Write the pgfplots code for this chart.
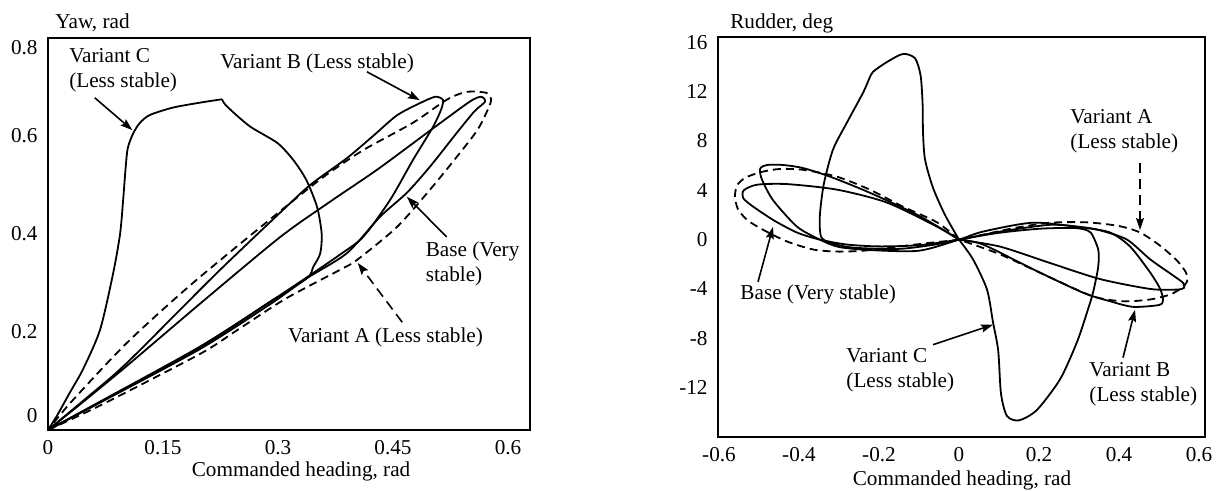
\documentclass[border=0pt]{standalone}
\usepackage{fontspec}
\setmainfont{Liberation Serif}
\usepackage{pgfplots}
\pgfplotsset{compat=1.18}
\usetikzlibrary{arrows.meta}

\pgfplotsset{
  loopaxis/.style={
    scale only axis,
    axis line style={line width=1pt},
    major tick length=0pt,
    tick style={draw=none},
    xticklabel style={yshift=-1.5pt},
    yticklabel style={xshift=-1.5pt},
    clip=false,
  },
  curve/.style={black, line width=0.9pt, smooth, tension=0.45, no markers},
  dashcurve/.style={curve, dash pattern=on 4pt off 2.5pt},
}
\tikzset{
  pointer/.style={-{Stealth[length=6pt,width=4pt,inset=1pt]}, line width=0.8pt},
  dpointer/.style={pointer, dash pattern=on 5pt off 3pt},
}

\begin{document}
\fontsize{10.6}{12.5}\selectfont
\begin{tikzpicture}

% ---------------- yaw versus commanded heading ----------------
\begin{axis}[loopaxis,
  at={(0pt,0pt)}, anchor=south west,
  width=241pt, height=196pt,
  xmin=0, xmax=0.6287, ymin=0, ymax=0.8,
  xtick={0,0.15,0.3,0.45,0.6}, xticklabels={0,0.15,0.3,0.45,0.6},
  ytick={0,0.2,0.4,0.6,0.8},
  yticklabels={{\smash{\raisebox{3.65pt}{0}}},0.2,0.4,0.6,{\smash{\raisebox{-8.35pt}{0.8}}}},
  xlabel={Commanded heading, rad},
  xlabel style={at={(axis description cs:0.525,0)}, anchor=base, yshift=-23.5pt},
  ylabel={Yaw, rad},
  ylabel style={rotate=-90, at={(axis description cs:0,1.0255)}, anchor=base west},
]
% Variant A
\addplot[dashcurve] coordinates {(0,0) (0.068,0.05) (0.198,0.155) (0.246,0.203) (0.31,0.268)
  (0.381,0.327) (0.403,0.347) (0.455,0.414) (0.498,0.49) (0.533,0.557) (0.56,0.612)
  (0.574,0.655) (0.578,0.675) (0.572,0.688) (0.546,0.69) (0.52,0.674) (0.476,0.627)
  (0.411,0.571) (0.359,0.516) (0.30,0.443) (0.189,0.30) (0.103,0.178) (0.029,0.055) (0,0)};
% Base
\addplot[curve] coordinates {(0,0) (0.068,0.056) (0.198,0.165) (0.29,0.257) (0.338,0.31)
  (0.39,0.361) (0.433,0.435) (0.468,0.484) (0.498,0.537) (0.533,0.606) (0.556,0.65)
  (0.57,0.67) (0.565,0.68) (0.55,0.67) (0.5,0.613) (0.43,0.532) (0.368,0.466)
  (0.303,0.394) (0.2,0.26) (0.103,0.131) (0.04,0.05) (0,0)};
% Variant B
\addplot[curve] coordinates {(0,0) (0.068,0.058) (0.198,0.17) (0.29,0.262) (0.338,0.312)
  (0.38,0.357) (0.411,0.394) (0.446,0.469) (0.476,0.551) (0.502,0.618) (0.513,0.655)
  (0.515,0.674) (0.505,0.68) (0.485,0.667) (0.455,0.642) (0.424,0.600) (0.39,0.555)
  (0.346,0.505) (0.32,0.469) (0.22,0.32) (0.103,0.137) (0.05,0.065) (0,0)};
% Variant C
\addplot[curve] coordinates {(0,0) (0.012,0.03) (0.028,0.075) (0.046,0.125) (0.068,0.205)
  (0.085,0.32) (0.094,0.40) (0.098,0.469) (0.101,0.53) (0.104,0.575) (0.111,0.605)
  (0.12,0.627) (0.133,0.643) (0.163,0.658) (0.198,0.668) (0.227,0.675)};
\addplot[curve] coordinates {(0.227,0.675) (0.233,0.661) (0.263,0.62) (0.299,0.586)
  (0.320,0.551) (0.337,0.51) (0.351,0.455) (0.357,0.40) (0.355,0.36) (0.346,0.333)
  (0.338,0.31) (0.29,0.262) (0.198,0.168) (0.068,0.057) (0,0)};

\node[anchor=west, align=left] at (axis cs:0.018,0.734) {Variant C\\(Less stable)};
\draw[pointer] (axis cs:0.061,0.678) -- (axis cs:0.110,0.612);
\node at (axis cs:0.351,0.749) {Variant B (Less stable)};
\draw[pointer] (axis cs:0.416,0.731) -- (axis cs:0.485,0.673);
\node[anchor=west, align=left] at (axis cs:0.483,0.339) {Base (Very\\stable)};
\draw[pointer] (axis cs:0.520,0.394) -- (axis cs:0.468,0.476);
\node[anchor=east] at (axis cs:0.577,0.188) {Variant A (Less stable)};
\draw[dpointer] (axis cs:0.462,0.220) -- (axis cs:0.404,0.341);
\end{axis}

% ---------------- rudder versus commanded heading ----------------
\begin{axis}[loopaxis,
  at={(335pt,-3.5pt)}, anchor=south west,
  width=243.5pt, height=199.85pt,
  xmin=-0.6025, xmax=0.615, ymin=-16, ymax=16.4,
  xtick={-0.6,-0.4,-0.2,0,0.2,0.4,0.6},
  xticklabels={-0.6,-0.4,-0.2,0,0.2,0.4,0.6},
  ytick={-12,-8,-4,0,4,8,12,16},
  yticklabels={-12,-8,-4,0,4,8,12,16},
  xlabel={Commanded heading, rad},
  xlabel style={at={(axis description cs:0.501,0)}, anchor=base, yshift=-24pt},
  ylabel={Rudder, deg},
  ylabel style={rotate=-90, at={(axis description cs:0.01,1.021)}, anchor=base west},
]
% Variant A
\addplot[dashcurve] coordinates {(0,0) (-0.055,1.4) (-0.14,2.67) (-0.223,4.05) (-0.305,5.1)
  (-0.39,5.66) (-0.45,5.72) (-0.498,5.45) (-0.535,5.0) (-0.555,4.4) (-0.56,3.5)
  (-0.553,2.5) (-0.53,1.6) (-0.49,0.8) (-0.43,-0.15) (-0.365,-0.8) (-0.305,-0.97)
  (-0.24,-0.9) (-0.16,-0.6) (-0.07,-0.25) (0,0) (0.06,0.4) (0.14,0.95) (0.228,1.37)
  (0.32,1.4) (0.4,1.1) (0.453,0.57) (0.503,-0.5) (0.545,-1.7) (0.568,-2.7) (0.57,-3.4)
  (0.555,-3.95) (0.528,-4.45) (0.478,-4.85) (0.41,-5.0) (0.335,-4.6) (0.228,-3.07)
  (0.103,-1.2) (0,0)};
% Base
\addplot[curve] coordinates {(0,0) (-0.055,1.05) (-0.18,3.0) (-0.305,4.05) (-0.43,4.5)
  (-0.505,4.45) (-0.538,4.0) (-0.54,3.4) (-0.52,2.8) (-0.465,1.6) (-0.405,0.57)
  (-0.348,0) (-0.28,-0.4) (-0.2,-0.55) (-0.1,-0.45) (0,0) (0.103,0.65) (0.228,1.2)
  (0.31,1.0) (0.353,0.75) (0.42,0) (0.478,-1.6) (0.535,-2.9) (0.56,-3.5) (0.563,-3.9)
  (0.545,-4.05) (0.478,-4.0) (0.353,-3.2) (0.228,-1.9) (0.103,-0.57) (0,0)};
% Variant B
\addplot[curve] coordinates {(0,0) (-0.098,1.9) (-0.223,3.8) (-0.322,5.1) (-0.39,5.8)
  (-0.44,6.05) (-0.48,6.05) (-0.497,5.75) (-0.493,4.9) (-0.465,3.2) (-0.405,1.05)
  (-0.348,0) (-0.3,-0.6) (-0.22,-0.85) (-0.1,-0.9) (0,0) (0.06,0.65) (0.185,1.37)
  (0.31,0.97) (0.378,0.57) (0.428,-0.57) (0.478,-2.67) (0.503,-4.0) (0.51,-4.9)
  (0.5,-5.3) (0.435,-5.45) (0.378,-5.0) (0.31,-4.3) (0.185,-2.4) (0.06,-0.4) (0,0)};
% Variant C
\addplot[curve] coordinates {(0,0) (-0.035,2.0) (-0.065,4.2) (-0.085,6.5) (-0.09,8.7)
  (-0.091,11) (-0.096,13.3) (-0.11,14.7) (-0.14,15.05) (-0.18,14.4) (-0.215,13.6)
  (-0.225,13.0) (-0.24,11.9) (-0.28,9.5) (-0.315,7.3) (-0.338,4.5) (-0.348,1.9)
  (-0.345,0.25) (-0.322,-0.25) (-0.265,-0.65) (-0.15,-0.75) (-0.06,-0.4) (0,0)
  (0.1,0.55) (0.2,0.88) (0.28,0.95) (0.31,0.85) (0.33,0.55) (0.348,-0.8) (0.348,-2.2)
  (0.335,-4.3) (0.32,-5.9) (0.295,-8.3) (0.253,-11.3) (0.195,-13.8) (0.15,-14.65)
  (0.12,-14.3) (0.105,-12.5) (0.098,-9.0) (0.085,-6.7) (0.07,-4.05) (0.035,-1.6) (0,0)};

\node[anchor=west, align=left] at (axis cs:0.26,8.76) {Variant A\\(Less stable)};
\draw[dpointer] (axis cs:0.4525,6.2) -- (axis cs:0.4525,0.78);
\node[anchor=west] at (axis cs:-0.565,-4.48) {Base (Very stable)};
\draw[pointer] (axis cs:-0.5025,-3.42) -- (axis cs:-0.465,1.03);
\node[anchor=west, align=left] at (axis cs:-0.3,-10.58) {Variant C\\(Less stable)};
\draw[pointer] (axis cs:-0.065,-8.52) -- (axis cs:0.085,-6.9);
\node[anchor=west, align=left] at (axis cs:0.3075,-11.76) {Variant B\\(Less stable)};
\draw[pointer] (axis cs:0.41,-9.57) -- (axis cs:0.44,-5.69);
\end{axis}

\pgfresetboundingbox
\path[use as bounding box] (-24pt,-30.5pt) rectangle (585pt,215pt);
\end{tikzpicture}
\end{document}
